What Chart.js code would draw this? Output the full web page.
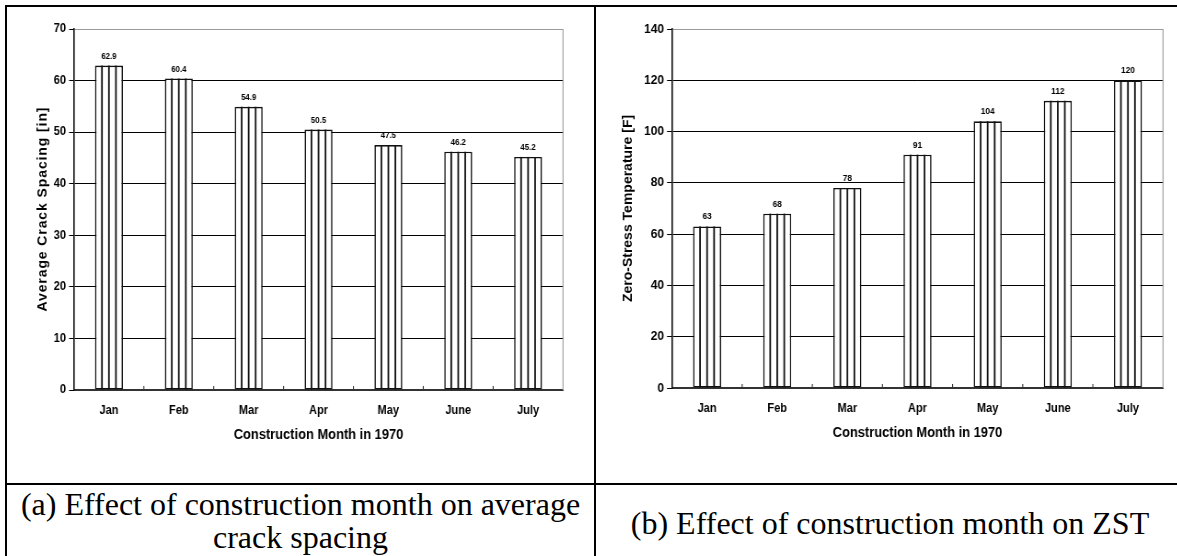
<!DOCTYPE html>
<html>
<head>
<meta charset="utf-8">
<script src="https://cdn.jsdelivr.net/npm/chart.js@4.4.1/dist/chart.umd.min.js"></script>
<style>
  html, body { margin: 0; padding: 0; background: #fff; }
  body { position: relative; width: 1177px; height: 556px; overflow: hidden; }
  .rule { position: absolute; background: #000; }
  .cell { position: absolute; overflow: visible; }
  .squeeze { transform: scaleX(0.92); transform-origin: 0 0; }
  .squeeze canvas { display: block; }
  .cap {
    position: absolute;
    font-family: "Liberation Serif", "Times New Roman", serif;
    font-size: 32px;
    line-height: 33px;
    text-align: center;
    color: #000;
    white-space: nowrap;
  }
</style>
</head>
<body>
<!-- table rules -->
<div class="rule" style="left:5px;top:5px;width:1172px;height:2px"></div>
<div class="rule" style="left:5px;top:5px;width:2px;height:551px"></div>
<div class="rule" style="left:594px;top:5px;width:2px;height:551px"></div>
<div class="rule" style="left:5px;top:483px;width:1172px;height:2px"></div>

<div class="cell" style="left:7px;top:7px"><div class="squeeze"><canvas id="crack"></canvas></div></div>
<div class="cell" style="left:596px;top:7px"><div class="squeeze"><canvas id="zst"></canvas></div></div>

<div class="cap" style="left:7px;top:488px;width:587px">(a) Effect of construction month on average<br>crack spacing</div>
<div class="cap" style="left:596px;top:507px;width:588px">(b) Effect of construction month on ZST</div>

<script>
// Construction months (1970)
const months = ['Jan', 'Feb', 'Mar', 'Apr', 'May', 'June', 'July'];

// Average crack spacing, inches
const crackSpacing = [62.9, 60.4, 54.9, 50.5, 47.5, 46.2, 45.2];
const crackLabels = ['62.9', '60.4', '54.9', '50.5', '47.5', '46.2', '45.2'];

// Zero-stress temperature, degrees F
const zeroStressTemp = [63, 68, 78, 91, 104, 112, 120];
const zstLabels = ['63', '68', '78', '91', '104', '112', '120'];

// Y axis ranges
const crackAxis = { min: 0, max: 70, step: 10 };
const zstAxis = { min: 0, max: 140, step: 20 };

// Horizontal squeeze applied to both chart canvases (see .squeeze)
const SQ = 0.92;

Chart.defaults.font.family = '"Liberation Sans", Arial, Helvetica, sans-serif';
Chart.defaults.color = '#000';
Chart.defaults.animation = false;

// Vertical hatching inside each bar, split into four strips
const hatchPlugin = {
  id: 'hatch',
  afterDatasetsDraw(chart) {
    const ctx = chart.ctx;
    const meta = chart.getDatasetMeta(0);
    ctx.save();
    ctx.strokeStyle = '#111';
    ctx.lineWidth = 1.8;
    meta.data.forEach(bar => {
      const { x, y, base, width } = bar.getProps(['x', 'y', 'base', 'width'], true);
      const left = x - width / 2;
      for (let k = 1; k < 4; k++) {
        const px = left + k * width / 4;
        ctx.beginPath();
        ctx.moveTo(px, y);
        ctx.lineTo(px, base);
        ctx.stroke();
      }
    });
    ctx.restore();
  }
};

// Value printed above each bar
const valueLabelPlugin = {
  id: 'valueLabels',
  afterDatasetsDraw(chart, args, opts) {
    const ctx = chart.ctx;
    const meta = chart.getDatasetMeta(0);
    ctx.save();
    ctx.font = 'bold ' + opts.size + 'px "Liberation Sans", Arial, sans-serif';
    ctx.fillStyle = '#000';
    ctx.textAlign = 'center';
    ctx.textBaseline = 'alphabetic';
    meta.data.forEach((bar, i) => {
      ctx.fillText(opts.labels[i], bar.x, bar.y - 7);
    });
    ctx.restore();
  }
};

// Rotated y-axis title, with optional letter spacing
const yTitlePlugin = {
  id: 'yTitle',
  afterDraw(chart, args, opts) {
    const { ctx, chartArea: a } = chart;
    ctx.save();
    ctx.translate(opts.x, (a.top + a.bottom) / 2);
    ctx.rotate(-Math.PI / 2);
    ctx.font = 'bold ' + opts.size + 'px "Liberation Sans", Arial, sans-serif';
    if ('letterSpacing' in ctx) ctx.letterSpacing = opts.spacing + 'px';
    ctx.fillStyle = '#000';
    ctx.textAlign = 'center';
    ctx.textBaseline = 'middle';
    ctx.fillText(opts.text, opts.spacing / 2, 0);
    ctx.restore();
  }
};

// Plot frame on the right, and small inward ticks between categories
const framePlugin = {
  id: 'frame',
  afterDraw(chart) {
    const { ctx, chartArea: a } = chart;
    const xs = chart.scales.x;
    ctx.save();
    ctx.strokeStyle = '#999';
    ctx.lineWidth = 1.1;
    ctx.beginPath();
    ctx.moveTo(a.right, a.top);
    ctx.lineTo(a.right, a.bottom);
    ctx.stroke();
    ctx.strokeStyle = '#333';
    ctx.lineWidth = 1.1;
    const n = chart.data.labels.length;
    for (let i = 1; i < n; i++) {
      const px = (xs.getPixelForValue(i - 1) + xs.getPixelForValue(i)) / 2;
      ctx.beginPath();
      ctx.moveTo(px, a.bottom);
      ctx.lineTo(px, a.bottom - 4);
      ctx.stroke();
    }
    ctx.restore();
  }
};

// d: page-space sizes; horizontal ones are converted into canvas units by SQ
function makeChart(id, values, labels, axis, yTitle, d) {
  const canvas = document.getElementById(id);
  const w = Math.round(d.w / SQ);
  canvas.width = w;
  canvas.height = d.h;
  canvas.style.width = w + 'px';
  canvas.style.height = d.h + 'px';
  const yWidth = d.plotLeft / SQ;
  const padRight = w - d.plotRight / SQ;
  const titleHalf = d.titleSize * 1.2 / 2;
  const tickHalf = d.xTickSize * 1.2 / 2;
  return new Chart(canvas, {
    type: 'bar',
    data: {
      labels: months,
      datasets: [{
        data: values,
        backgroundColor: '#fff',
        borderColor: '#111',
        borderWidth: 1.6,
        borderSkipped: false,
        categoryPercentage: 1,
        barPercentage: 0.4
      }]
    },
    options: {
      responsive: false,
      devicePixelRatio: 1,
      layout: { padding: { left: 0, right: padRight, top: d.plotTop, bottom: 0 } },
      plugins: {
        legend: { display: false },
        tooltip: { enabled: false },
        valueLabels: { labels: labels, size: d.valueSize },
        yTitle: { text: yTitle, x: d.yTitleCenter / SQ, size: d.titleSize, spacing: d.yTitleSpacing }
      },
      scales: {
        x: {
          grid: { display: false, drawTicks: false },
          border: { display: true, color: '#333', width: 2 },
          ticks: { font: { size: d.xTickSize, weight: 'bold' }, padding: d.xTickCenter - tickHalf, color: '#000' },
          title: {
            display: true,
            text: 'Construction Month in 1970',
            font: { size: d.titleSize, weight: 'bold' },
            color: '#000',
            padding: { top: 0, bottom: (d.h - d.plotBottom - d.xTitleCenter) - titleHalf }
          },
          afterFit(s) { s.height = d.h - d.plotBottom; }
        },
        y: {
          min: axis.min,
          max: axis.max,
          grid: {
            color: c => (c.tick && c.tick.value === axis.max ? '#999' : '#000'),
            lineWidth: 1,
            tickLength: 5.4,
            tickColor: '#000'
          },
          border: { display: true, color: '#111', width: 1.6 },
          ticks: {
            stepSize: axis.step,
            font: { size: d.yTickSize, weight: 'bold' },
            padding: 3.3,
            color: '#000'
          },
          title: { display: false },
          afterFit(s) { s.width = yWidth; }
        }
      }
    },
    plugins: [hatchPlugin, valueLabelPlugin, yTitlePlugin, framePlugin]
  });
}

makeChart('crack', crackSpacing, crackLabels, crackAxis, 'Average Crack Spacing [in]', {
  w: 587, h: 476,
  plotLeft: 67, plotRight: 556, plotTop: 22, plotBottom: 383,
  xTickCenter: 21, xTitleCenter: 45, yTitleCenter: 36, yTitleSpacing: 0.9,
  titleSize: 14, xTickSize: 12, yTickSize: 12, valueSize: 8.5
});

makeChart('zst', zeroStressTemp, zstLabels, zstAxis, 'Zero-Stress Temperature [F]', {
  w: 581, h: 476,
  plotLeft: 76, plotRight: 567, plotTop: 22, plotBottom: 381,
  xTickCenter: 20.5, xTitleCenter: 45, yTitleCenter: 32, yTitleSpacing: 0,
  titleSize: 14, xTickSize: 12, yTickSize: 13, valueSize: 9
});
</script>
</body>
</html>
